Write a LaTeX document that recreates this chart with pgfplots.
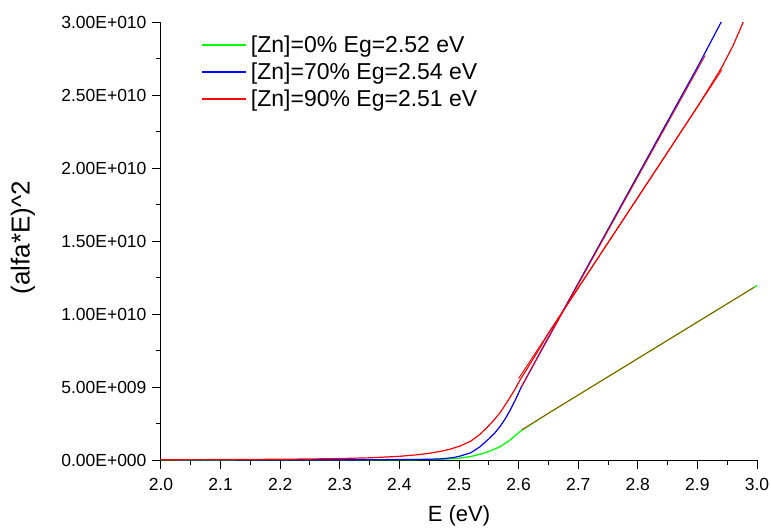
\documentclass[border=0pt]{standalone}
\usepackage{fontspec}
\setmainfont{Liberation Sans}
\usepackage{pgfplots}
\pgfplotsset{compat=1.18}
\definecolor{cg}{RGB}{0,255,0}
\definecolor{cb}{RGB}{0,0,255}
\definecolor{cr}{RGB}{255,0,0}
\begin{document}
\begin{tikzpicture}
\useasboundingbox (-161pt,-68pt) rectangle (610pt,460pt);
\begin{axis}[
  scale only axis, width=596pt, height=438pt,
  xmin=2, xmax=3, ymin=0, ymax=3e10,
  axis lines=left, axis line style={-, line width=1pt},
  tick align=outside,
  xtick={2,2.1,2.2,2.3,2.4,2.5,2.6,2.7,2.8,2.9,3},
  xticklabels={2.0,2.1,2.2,2.3,2.4,2.5,2.6,2.7,2.8,2.9,3.0},
  minor x tick num=1,
  ytick={0,5e9,1e10,1.5e10,2e10,2.5e10,3e10},
  yticklabels={0.00E+000,5.00E+009,1.00E+010,1.50E+010,2.00E+010,2.50E+010,3.00E+010},
  minor y tick num=1,
  scaled y ticks=false,
  major tick length=9pt, minor tick length=5pt,
  tick style={line width=1pt, black},
  ticklabel style={font=\fontsize{17.5}{21}\selectfont},
  xticklabel style={yshift=-6pt},
  yticklabel style={xshift=-2pt},
  xlabel={E (eV)},
  ylabel={(alfa*E)\textasciicircum 2},
  xlabel style={at={(axis description cs:0.5,-0.1279)}, anchor=center, font=\fontsize{22}{26}\selectfont},
  ylabel style={at={(axis description cs:-0.2315,0.5075)}, anchor=center, font=\fontsize{26}{30}\selectfont},
  legend style={at={(axis description cs:0,1)}, anchor=north west, xshift=40pt, yshift=-12pt,
    fill=none, draw=none, font=\fontsize{23}{27}\selectfont, row sep=4.5pt, inner sep=0pt,
    /tikz/every odd column/.append style={column sep=2pt}},
  legend cell align=left,
  clip=true,
]
\addplot[cg, line width=1.3pt, legend image code/.code={\draw[cg, line width=1.8pt] (0pt,0pt) -- (44pt,0pt);}] coordinates {
(2.00,1.0e7) (2.10,1.0e7) (2.20,1.2e7) (2.30,1.5e7) (2.40,2.0e7) (2.44,3.0e7)
(2.47,5.0e7) (2.50,1.2e8) (2.52,2.4e8) (2.535,3.9e8) (2.55,5.8e8) (2.569,9.1e8)
(2.585,1.35e9) (2.602,1.94e9) (2.65,3.2e9) (2.70,4.45e9) (2.75,5.7e9) (2.80,6.95e9)
(2.85,8.2e9) (2.90,9.45e9) (2.95,1.07e10) (3.00,1.195e10)};
\addlegendentry{[Zn]=0\% Eg=2.52 eV}
\addplot[cb, line width=1.2pt, legend image code/.code={\draw[cb, line width=1.8pt] (0pt,0pt) -- (44pt,0pt);}] coordinates {
(2.00,1.0e7) (2.20,1.5e7) (2.30,2.0e7) (2.40,3.0e7) (2.45,5.0e7) (2.47,8.0e7)
(2.49,1.6e8) (2.502,2.7e8) (2.52,5.0e8) (2.535,9.0e8) (2.55,1.45e9) (2.56,1.85e9)
(2.569,2.3e9) (2.578,2.85e9) (2.585,3.35e9) (2.595,4.15e9) (2.604,4.95e9)
(2.65,8.4e9) (2.70,1.21e10) (2.75,1.58e10) (2.80,1.95e10)
(2.85,2.32e10) (2.90,2.69e10) (2.94,3.0e10) (2.96,3.16e10)};
\addlegendentry{[Zn]=70\% Eg=2.54 eV}
\addplot[cr, line width=1.2pt, legend image code/.code={\draw[cr, line width=1.8pt] (0pt,0pt) -- (44pt,0pt);}] coordinates {
(2.00,2.0e7) (2.10,3.0e7) (2.20,5.0e7) (2.25,7.0e7) (2.30,1.0e8) (2.35,1.5e8)
(2.40,2.5e8) (2.43,3.6e8) (2.45,4.6e8) (2.468,5.8e8) (2.485,7.4e8) (2.502,9.6e8)
(2.52,1.3e9) (2.535,1.75e9) (2.55,2.35e9) (2.56,2.8e9) (2.569,3.25e9) (2.578,3.8e9)
(2.585,4.25e9) (2.594,4.85e9) (2.602,5.45e9) (2.615,6.3e9)
(2.636,7.7e9) (2.65,8.68e9) (2.70,1.178e10) (2.75,1.488e10) (2.80,1.798e10)
(2.85,2.108e10) (2.90,2.42e10) (2.92,2.55e10) (2.941,2.69e10) (2.96,2.84e10)
(2.977,3.0e10) (2.99,3.12e10)};
\addlegendentry{[Zn]=90\% Eg=2.51 eV}
\addplot[cr, line width=0.6pt, forget plot] coordinates {(2.605,2.075e9) (2.995,1.1825e10)};
\addplot[cr, line width=0.9pt, forget plot] coordinates {(2.604,4.97e9) (2.913,2.77e10)};
\addplot[cr, line width=0.9pt, forget plot] coordinates {(2.60,5.58e9) (2.941,2.672e10)};
\end{axis}
\end{tikzpicture}
\end{document}
